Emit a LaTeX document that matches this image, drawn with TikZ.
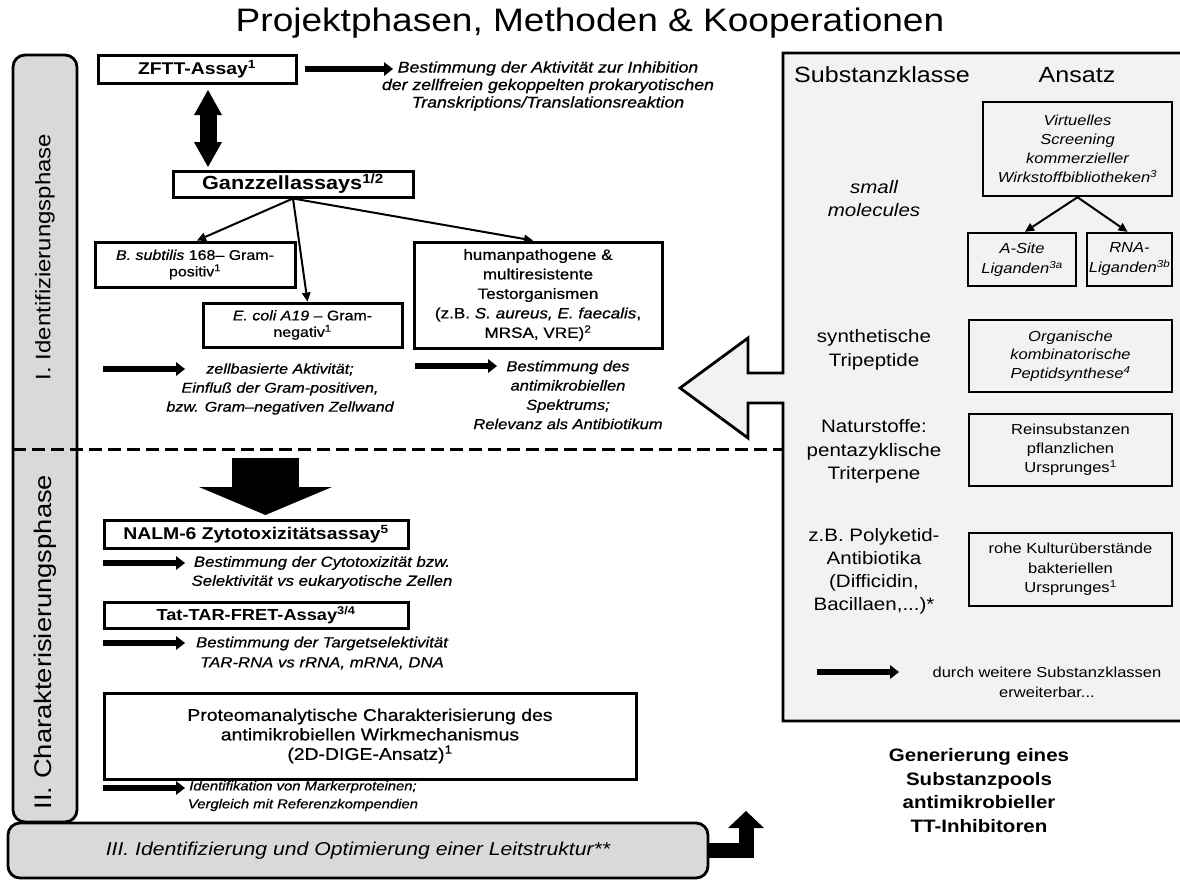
\documentclass[tikz,border=0pt]{standalone}
\usepackage{fontspec}
\setmainfont{Liberation Sans}[FakeStretch=1.14]
\newfontfamily\heavy{Liberation Sans}[FakeStretch=1.14,FakeBold=0.7]
\usetikzlibrary{arrows.meta}
\definecolor{barfill}{RGB}{217,217,217}
\definecolor{panelfill}{RGB}{242,242,242}
\newcommand{\myfs}[2]{\fontsize{#1}{#2}\selectfont}
\begin{document}
\begin{tikzpicture}[x=1pt,y=-1pt,
 lbox/.style={draw,line width=3pt,fill=white,inner sep=0pt,align=center},
 rbox/.style={draw,line width=2.5pt,inner sep=0pt,align=center},
 txt/.style={inner sep=0pt,align=center},
 fat/.style={line width=6.5pt,-{Triangle[length=9pt,width=14pt,line width=0pt]}},
 thinarr/.style={line width=2pt,-{Triangle[length=9pt,width=9pt,line width=0pt]}}]
\useasboundingbox (0,0) rectangle (1180,879);
\fill[white] (0,0) rectangle (1180,879);

% title
\node[txt,font=\myfs{32.5}{36}] (title) at (590,23) {Projektphasen, Methoden \& Kooperationen};

% right panel with hollow arrow
\draw[line width=2.8pt,fill=panelfill,line join=miter] (783,53) -- (1185,53) -- (1185,721) -- (783,721) -- (783,403) -- (748,403) -- (748,438) -- (680,388) -- (748,338) -- (748,373) -- (783,373) -- cycle;

% phase bars
\node[draw,line width=2.8pt,fill=barfill,rounded corners=12pt,minimum width=64pt,minimum height=767pt,inner sep=0pt] (phb) at (45,438.5) {};
\node[txt,rotate=90,font=\myfs{21}{24}] (lab1) at (45,257) {I. Identifizierungsphase};
\node[txt,rotate=90,font=\myfs{24}{28}] (lab2) at (45,642) {II. Charakterisierungsphase};
\coordinate (dsl) at (13,449);
\coordinate (dsr) at (783,449);
\draw[line width=3pt,dash pattern=on 13pt off 6pt] (dsl) -- (dsr);

\node[draw,line width=2.8pt,fill=barfill,rounded corners=12pt,minimum width=700pt,minimum height=55pt,inner sep=0pt,font=\myfs{18.6}{22}\itshape] (bar3) at (358,850.5) {III. Identifizierung und Optimierung einer Leitstruktur**};
\coordinate (elb) at (746,850.5);
\coordinate (elt) at (746,811);
\draw[line width=15pt,line join=miter,-{Triangle[length=17pt,width=36pt,line width=0pt]}] (bar3.east) -- (elb) -- (elt);

% phase I
\node[lbox,minimum width=198pt,minimum height=28pt,font=\myfs{17}{20}\bfseries] (zftt) at (197,69) {ZFTT-Assay\textsuperscript{1}};
\coordinate (a1s) at (305,69);
\coordinate (a1e) at (393,69);
\draw[fat] (a1s) -- (a1e);
\node[txt,font=\heavy\myfs{15.5}{17.5}\itshape] (d1) at (548,86) {Bestimmung der Aktivität zur Inhibition\\der zellfreien gekoppelten prokaryotischen\\Transkriptions/Translationsreaktion};

\node[lbox,minimum width=240pt,minimum height=26pt,font=\myfs{19}{22}\bfseries] (gz) at (293,184) {Ganzzellassays\textsuperscript{1/2}};
\coordinate (dat) at (208,90);
\coordinate (dab) at (208,167);
\draw[line width=17pt,{Triangle[length=25pt,width=28pt,line width=0pt]}-{Triangle[length=25pt,width=28pt,line width=0pt]}] (dat) -- (dab);

\node[lbox,minimum width=200pt,minimum height=45pt,font=\heavy\myfs{14}{16.5}] (bs) at (195,264.5) {\textit{B. subtilis} 168– Gram-\\positiv\textsuperscript{1}};
\node[lbox,minimum width=199pt,minimum height=44pt,font=\heavy\myfs{14}{16.5}] (ec) at (302.5,325) {\textit{E. coli A19} – Gram-\\negativ\textsuperscript{1}};
\node[lbox,minimum width=248pt,minimum height=106pt,font=\heavy\myfs{15}{19.5}] (hp) at (538,295) {humanpathogene \&\\multiresistente\\Testorganismen\\(z.B. \textit{S. aureus, E. faecalis},\\MRSA, VRE)\textsuperscript{2}};
\draw[thinarr] (gz.south) -- ([xshift=2pt]bs.north);
\draw[thinarr] (gz.south) -- ([xshift=5pt]ec.north);
\draw[thinarr] (gz.south) -- ([xshift=-5pt]hp.north);

\coordinate (a2s) at (103,369);
\coordinate (a2e) at (185,369);
\draw[fat] (a2s) -- (a2e);
\node[txt,font=\heavy\myfs{14.2}{19}\itshape] (d2) at (280,389) {zellbasierte Aktivität;\\Einfluß der Gram-positiven,\\bzw. Gram–negativen Zellwand};
\coordinate (a3s) at (415,366);
\coordinate (a3e) at (497,366);
\draw[fat] (a3s) -- (a3e);
\node[txt,font=\heavy\myfs{14.5}{19.3}\itshape] (d3) at (568,395) {Bestimmung des\\antimikrobiellen\\Spektrums;\\Relevanz als Antibiotikum};

% phase II
\coordinate (bda) at (265.5,458);
\coordinate (bdb) at (265.5,515);
\draw[line width=67pt,-{Triangle[length=28pt,width=133pt,line width=0pt]}] (bda) -- (bdb);

\node[lbox,minimum width=304pt,minimum height=28pt,font=\myfs{17}{20}\bfseries] (nalm) at (256,534) {NALM-6 Zytotoxizitätsassay\textsuperscript{5}};
\coordinate (a4s) at (103,563);
\coordinate (a4e) at (185,563);
\draw[fat] (a4s) -- (a4e);
\node[txt,font=\heavy\myfs{14.7}{19}\itshape] (d4) at (322,572.5) {Bestimmung der Cytotoxizität bzw.\\Selektivität vs eukaryotische Zellen};

\node[lbox,minimum width=304pt,minimum height=26pt,font=\myfs{16}{19}\bfseries] (tat) at (256,615) {Tat-TAR-FRET-Assay\textsuperscript{3/4}};
\coordinate (a5s) at (103,643);
\coordinate (a5e) at (185,643);
\draw[fat] (a5s) -- (a5e);
\node[txt,font=\heavy\myfs{14.7}{20}\itshape] (d5) at (322,653) {Bestimmung der Targetselektivität\\TAR-RNA vs rRNA, mRNA, DNA};

\node[lbox,minimum width=532pt,minimum height=86pt,font=\heavy\myfs{17}{19.5}] (prot) at (370,736) {Proteomanalytische Charakterisierung des\\antimikrobiellen Wirkmechanismus\\(2D-DIGE-Ansatz)\textsuperscript{1}};
\coordinate (a6s) at (103,788);
\coordinate (a6e) at (185,788);
\draw[fat] (a6s) -- (a6e);
\node[txt,font=\heavy\myfs{13}{18}\itshape] (d6) at (303,796) {Identifikation von Markerproteinen;\\Vergleich mit Referenzkompendien};

% right panel contents
\node[txt,font=\myfs{22}{26}] (hdr1) at (882,75) {Substanzklasse};
\node[txt,font=\myfs{22}{26}] (hdr2) at (1077,75) {Ansatz};
\node[rbox,minimum width=189pt,minimum height=94pt,font=\myfs{14.5}{19}\itshape] (virt) at (1077.5,149) {Virtuelles\\Screening\\kommerzieller\\Wirkstoffbibliotheken\textsuperscript{3}};
\node[txt,font=\myfs{18}{23}\itshape] (sm) at (874,198.5) {small\\molecules};
\node[rbox,minimum width=108pt,minimum height=53pt,font=\myfs{14.5}{20}\itshape] (asite) at (1022,259.5) {A-Site\\Liganden\textsuperscript{3a}};
\node[rbox,minimum width=85pt,minimum height=53pt,font=\myfs{14.5}{20}\itshape] (rna) at (1129.5,259.5) {RNA-\\Liganden\textsuperscript{3b}};
\draw[thinarr] (virt.south) -- ([xshift=3pt]asite.north);
\draw[thinarr] (virt.south) -- ([xshift=-2pt]rna.north);

\node[txt,font=\myfs{18}{24}] (syn) at (874,350) {synthetische\\Tripeptide};
\node[rbox,minimum width=203pt,minimum height=72pt,font=\myfs{14.5}{18.5}\itshape] (org) at (1070.5,356) {Organische\\kombinatorische\\Peptidsynthese\textsuperscript{4}};
\node[txt,font=\myfs{18}{23.5}] (nat) at (874,451.5) {Naturstoffe:\\pentazyklische\\Triterpene};
\node[rbox,minimum width=203pt,minimum height=72pt,font=\myfs{14.5}{19}] (rein) at (1070.5,450) {Reinsubstanzen\\pflanzlichen\\Ursprunges\textsuperscript{1}};
\node[txt,font=\myfs{18}{23}] (poly) at (874,571.5) {z.B. Polyketid-\\Antibiotika\\(Difficidin,\\Bacillaen,...)*};
\node[rbox,minimum width=203pt,minimum height=73pt,font=\myfs{14.5}{19.5}] (rohe) at (1070.5,569.5) {rohe Kulturüberstände\\bakteriellen\\Ursprunges\textsuperscript{1}};
\coordinate (a7s) at (817,672);
\coordinate (a7e) at (899,672);
\draw[fat] (a7s) -- (a7e);
\node[txt,font=\myfs{14.5}{20}] (durch) at (1047,682) {durch weitere Substanzklassen\\erweiterbar...};

\node[txt,font=\myfs{18}{23.7}\bfseries] (gen) at (979,790.5) {Generierung eines\\Substanzpools\\antimikrobieller\\TT-Inhibitoren};
\end{tikzpicture}
\end{document}
